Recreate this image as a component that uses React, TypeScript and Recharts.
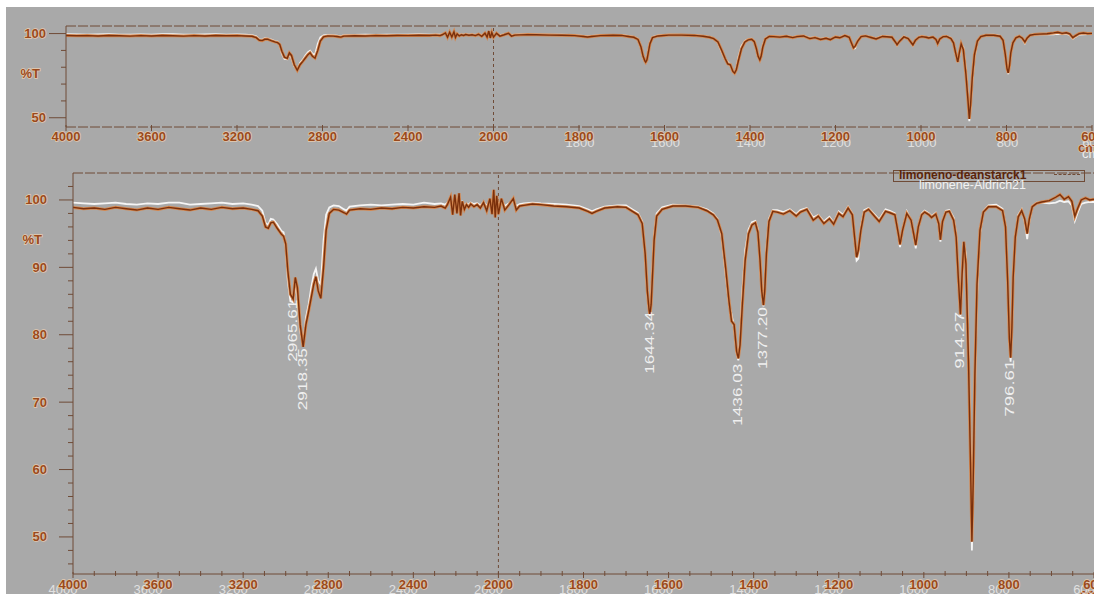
import React from 'react';
import { ComposedChart, Line, XAxis, YAxis, ReferenceLine, ReferenceDot, Legend, Label } from 'recharts';

// IR spectrum, wavenumber in cm-1, transmittance in %T
const wavenumbers = [
  4000, 3950, 3900, 3850, 3800, 3750, 3700, 3650, 3600, 3550,
  3500, 3450, 3400, 3350, 3300, 3250, 3200, 3160, 3130, 3110,
  3095, 3082, 3070, 3058, 3040, 3020, 3010, 3000, 2990, 2978,
  2965, 2955, 2945, 2932, 2918, 2905, 2892, 2880, 2868, 2858,
  2847, 2835, 2822, 2810, 2795, 2775, 2750, 2725, 2714, 2700,
  2650, 2600, 2550, 2500, 2450, 2400, 2350, 2300, 2270, 2250,
  2240, 2225, 2215, 2205, 2195, 2185, 2178, 2170, 2160, 2150,
  2140, 2130, 2115, 2100, 2085, 2070, 2055, 2040, 2030, 2022,
  2015, 2008, 2000, 1993, 1985, 1975, 1965, 1958, 1950, 1940,
  1920, 1900, 1870, 1840, 1810, 1790, 1780, 1770, 1750, 1720,
  1700, 1685, 1672, 1662, 1655, 1650, 1646, 1644, 1641, 1638,
  1634, 1628, 1615, 1590, 1560, 1530, 1510, 1495, 1485, 1475,
  1466, 1458, 1452, 1446, 1440, 1436, 1432, 1427, 1420, 1412,
  1404, 1396, 1390, 1385, 1381, 1377, 1374, 1370, 1364, 1355,
  1345, 1330, 1315, 1300, 1290, 1275, 1260, 1248, 1235, 1222,
  1212, 1200, 1190, 1178, 1168, 1162, 1158, 1154, 1148, 1140,
  1130, 1115, 1105, 1090, 1080, 1068, 1060, 1056, 1050, 1040,
  1030, 1024, 1019, 1013, 1005, 998, 988, 982, 972, 965,
  961, 956, 948, 940, 930, 924, 919, 914, 910, 906,
  901, 895, 890, 887, 884, 880, 875, 868, 860, 848,
  830, 815, 808, 803, 799, 796, 793, 790, 785, 778,
  770, 763, 757, 752, 745, 735, 723, 705, 690, 680,
  670, 660, 652, 645, 638, 630, 620, 610, 600,
];

const deanstarck = [
  98.9, 98.7, 98.8, 98.6, 98.9, 98.7, 98.5, 98.8, 98.6, 98.9,
  98.7, 98.5, 98.8, 98.6, 98.9, 98.7, 98.8, 98.6, 98.4, 97.6,
  96.0, 95.8, 96.6, 96.7, 95.8, 94.9, 94.6, 93.5, 89.5, 86.0,
  85.3, 88.5, 87.0, 81.5, 78.2, 81.5, 83.5, 85.5, 87.5, 88.6,
  86.5, 85.4, 90.0, 95.5, 98.0, 98.6, 98.5, 98.1, 97.9, 98.5,
  98.7, 98.6, 98.8, 98.7, 98.9, 98.8, 99.0, 98.9, 99.1, 98.8,
  99.3, 100.4, 97.8, 100.8, 98.0, 101.0, 97.7, 99.8, 98.6, 99.3,
  98.9, 99.4, 99.0, 99.3, 98.8, 99.6, 98.4, 100.2, 97.9, 101.5,
  97.4, 100.6, 97.9, 100.2, 98.5, 99.3, 100.2, 98.5, 99.1, 99.2,
  99.4, 99.3, 99.1, 99.0, 98.8, 98.3, 98.0, 98.3, 98.8, 99.0,
  98.9, 98.3, 97.8, 96.5, 92.0, 86.5, 83.8, 83.0, 84.5, 88.5,
  94.0, 97.6, 98.6, 99.1, 99.1, 98.9, 98.4, 97.8, 97.0, 95.0,
  90.0, 85.0, 82.0, 81.5, 77.5, 76.5, 78.5, 84.0, 91.0, 95.0,
  96.3, 96.6, 95.2, 91.0, 86.5, 84.4, 86.5, 92.0, 96.8, 98.3,
  98.2, 97.9, 98.4, 97.6, 98.2, 98.6, 97.0, 97.6, 96.5, 97.2,
  96.4, 98.0, 97.5, 98.8, 97.8, 94.0, 91.5, 92.5, 95.5, 98.2,
  98.6, 97.5, 96.8, 98.3, 98.1, 97.8, 95.0, 93.4, 95.5, 98.0,
  97.0, 95.0, 93.3, 96.0, 97.8, 98.2, 97.8, 97.4, 97.9, 96.5,
  94.1, 96.8, 98.2, 98.3, 97.0, 94.5, 88.5, 83.0, 89.0, 93.8,
  90.5, 76.0, 60.0, 49.3, 58.0, 74.0, 87.5, 95.5, 98.2, 99.0,
  99.0, 98.4, 96.0, 88.0, 79.5, 76.6, 81.0, 88.5, 94.5, 97.5,
  98.4, 97.2, 95.0, 97.2, 99.0, 99.5, 99.7, 99.9, 100.4, 100.8,
  100.1, 100.5, 99.8, 97.6, 98.8, 100.0, 100.3, 100.0, 100.1,
];

const aldrich = [
  99.6, 99.5, 99.4, 99.5, 99.6, 99.4, 99.3, 99.5, 99.4, 99.6,
  99.6, 99.3, 99.4, 99.5, 99.6, 99.4, 99.5, 99.3, 99.1, 98.4,
  96.6, 96.3, 97.2, 97.1, 96.4, 95.4, 95.2, 93.0, 88.0, 85.0,
  84.8, 87.5, 85.5, 80.5, 78.5, 82.5, 84.5, 87.0, 89.0, 89.8,
  88.0, 87.5, 94.0, 97.8, 98.9, 99.2, 99.1, 98.6, 98.4, 99.0,
  99.2, 99.3, 99.2, 99.3, 99.4, 99.3, 99.6, 99.4, 99.5, 99.3,
  99.6, 100.0, 98.8, 100.1, 98.9, 100.2, 98.7, 99.7, 99.2, 99.5,
  99.3, 99.6, 99.4, 99.5, 99.2, 99.7, 99.1, 99.9, 98.9, 100.4,
  98.6, 100.0, 98.9, 99.9, 99.1, 99.5, 99.8, 99.1, 99.4, 99.5,
  99.6, 99.5, 99.4, 99.3, 99.1, 98.6, 98.3, 98.6, 99.0, 99.2,
  99.2, 98.6, 98.1, 96.8, 91.5, 86.0, 83.5, 82.8, 85.0, 89.5,
  94.8, 98.0, 98.9, 99.3, 99.2, 99.0, 98.6, 98.0, 97.2, 94.5,
  89.0, 84.5, 83.0, 81.0, 77.2, 76.2, 79.5, 86.0, 92.5, 95.6,
  96.7, 96.9, 95.6, 90.5, 86.0, 84.2, 87.5, 93.0, 97.2, 98.5,
  98.5, 98.2, 98.6, 97.9, 98.5, 98.8, 97.4, 97.8, 96.8, 97.5,
  96.6, 98.3, 97.8, 99.0, 98.0, 93.5, 91.0, 91.3, 96.0, 98.5,
  98.8, 97.8, 97.1, 98.6, 98.4, 98.0, 94.8, 93.0, 95.5, 98.3,
  97.0, 94.8, 92.8, 96.0, 98.0, 98.4, 98.0, 97.6, 98.1, 96.2,
  93.8, 96.8, 98.4, 98.5, 97.4, 95.0, 88.0, 82.8, 87.5, 93.6,
  92.0, 79.0, 62.0, 48.0, 55.5, 71.0, 85.5, 95.0, 98.3, 99.2,
  99.3, 98.7, 96.2, 87.0, 79.0, 76.0, 80.5, 88.0, 94.5, 97.8,
  98.6, 96.8, 94.2, 96.8, 99.1, 99.6, 99.6, 99.5, 99.6, 99.9,
  99.7, 99.8, 99.2, 96.9, 98.2, 99.4, 99.6, 99.7, 99.7,
];

const seriesNames = ['limoneno-deanstarck1', 'limonene-Aldrich21'];
const xTickLabels = [4000, 3600, 3200, 2800, 2400, 2000, 1800, 1600, 1400, 1200, 1000, 800, 600];
const topYLabels = [100, 50];
const topYTicks = [50, 60, 70, 80, 90, 100];
const bottomYLabels = [100, 90, 80, 70, 60, 50];
const peakWavenumbers = [2965.61, 2918.35, 1644.34, 1436.03, 1377.2, 914.27, 796.61];
const peakLabels = ['2965.61', '2918.35', '1644.34', '1436.03', '1377.20', '914.27', '796.61'];
const peakLabelTop = [85.5, 78.3, 83.7, 76.0, 84.4, 83.7, 76.6];

// axis is compressed 2:1 above 2000 cm-1 (scale change of the spectrometer plot)
const toAxis = (w: number) => (w <= 2000 ? w : 2000 + (w - 2000) / 2);
const fromAxis = (t: number) => (t <= 2000 ? t : 2000 + (t - 2000) * 2);

const data = wavenumbers.map((w, i) => ({ t: toAxis(w), dean: deanstarck[i], ald: aldrich[i] }));

const minorX: number[] = [];
for (let w = 3900; w > 2000; w -= 100) if (w % 400 !== 0) minorX.push(w);
for (let w = 1950; w > 600; w -= 50) if (w % 200 !== 0) minorX.push(w);
const xTicksAll = [...xTickLabels, ...minorX].map(toAxis);

const bottomYTicks: number[] = [];
for (let v = 46; v <= 102; v += 2) bottomYTicks.push(v);

const FONT = '"Liberation Sans", Arial, sans-serif';
const BROWN_TEXT = '#9a4a1c';
const HALO = '#e6cbb0';
const AXIS = '#6f4b37';
const BG = '#a9a9a9';

function makeXTick(labelDy: number, ghost: (w: number) => [number, number] | null, showMinor: boolean) {
  return (props: any) => {
    const { x, y, payload } = props;
    const w = Math.round(fromAxis(payload.value));
    const major = xTickLabels.includes(w);
    if (!major) {
      return showMinor ? <line x1={x} x2={x} y1={y - 3} y2={y + 2} stroke={AXIS} strokeWidth={1} /> : <g />;
    }
    const g = ghost(w);
    return (
      <g>
        <line x1={x} x2={x} y1={y - 2} y2={y + 4} stroke={AXIS} strokeWidth={1} />
        {g && (
          <text x={x + g[0]} y={y + labelDy + g[1]} textAnchor="middle" dominantBaseline="central"
            fontFamily={FONT} fontSize={13} fill="#efefef" opacity={0.8}>{w}</text>
        )}
        <text x={x} y={y + labelDy} textAnchor="middle" dominantBaseline="central" fontFamily={FONT}
          fontWeight="bold" fontSize={13} fill={BROWN_TEXT} stroke={HALO} strokeWidth={1.4}
          paintOrder="stroke">{w}</text>
      </g>
    );
  };
}

function makeYTick(labels: number[], labelDx: number, majorLen: number, minorLen: number) {
  return (props: any) => {
    const { x, y, payload } = props;
    const v = payload.value;
    const major = labels.includes(v);
    return (
      <g>
        <line x1={x - (major ? majorLen : minorLen)} x2={x} y1={y} y2={y} stroke={AXIS} strokeWidth={1} />
        {major && (
          <text x={x - labelDx} y={y} textAnchor="end" dominantBaseline="central" fontFamily={FONT}
            fontWeight="bold" fontSize={13} fill={BROWN_TEXT} stroke={HALO} strokeWidth={1.4}
            paintOrder="stroke">{v}</text>
        )}
      </g>
    );
  };
}

function percentLabel(frac: number, dx: number) {
  return (p: any) => {
    const vb = p.viewBox || { x: 0, y: 0, width: 0, height: 0 };
    return (
      <text x={vb.x + vb.width - dx} y={vb.y + vb.height * frac} textAnchor="end" dominantBaseline="central"
        fontFamily={FONT} fontWeight="bold" fontSize={13} fill={BROWN_TEXT} stroke={HALO} strokeWidth={1.4}
        paintOrder="stroke">%T</text>
    );
  };
}

function unitLabel(dy: number, ghostDy: number) {
  return (p: any) => {
    const vb = p.viewBox || { x: 0, y: 0, width: 0, height: 0 };
    const x = vb.x + vb.width - 14;
    return (
      <g>
        <text x={x + 4} y={vb.y + dy + ghostDy} dominantBaseline="central" fontFamily={FONT} fontSize={13}
          fill="#f0f0f0">cm-1</text>
        <text x={x} y={vb.y + dy} dominantBaseline="central" fontFamily={FONT} fontWeight="bold" fontSize={13}
          fill={BROWN_TEXT} stroke={HALO} strokeWidth={1.2} paintOrder="stroke">cm-1</text>
      </g>
    );
  };
}

function seriesLines(prefix: string) {
  return [
    <Line key={prefix + 'w'} dataKey="ald" name={seriesNames[1]} type="linear" stroke="#f5f5f5" strokeWidth={1.8}
      dot={false} activeDot={false} isAnimationActive={false} />,
    <Line key={prefix + 'h'} dataKey="dean" name={seriesNames[0]} type="linear" stroke="#d4874f" strokeWidth={3}
      dot={false} activeDot={false} isAnimationActive={false} />,
    <Line key={prefix + 'c'} dataKey="dean" name={seriesNames[0] + ' '} type="linear" stroke="#7a300c" strokeWidth={1.4}
      dot={false} activeDot={false} isAnimationActive={false} />,
  ];
}

const LegendBox = () => (
  <div style={{ position: 'relative', width: 192, height: 12, border: `1px solid ${AXIS}`, boxSizing: 'border-box', fontFamily: FONT }}>
    <span style={{ position: 'absolute', left: 5, top: -3, fontSize: 12, fontWeight: 'bold', color: '#5a240a', whiteSpace: 'nowrap', lineHeight: '14px' }}>
      {seriesNames[0]}
    </span>
    <span style={{ position: 'absolute', left: 25, top: 7, fontSize: 12.5, color: '#f2f2f2', whiteSpace: 'nowrap', lineHeight: '14px' }}>
      {seriesNames[1]}
    </span>
    <span style={{ position: 'absolute', left: 160, top: 3, width: 26, borderTop: `1px dashed ${AXIS}` }} />
  </div>
);

export default function App() {
  return (
    <div style={{ position: 'fixed', left: 6, top: 7, width: 1088, height: 587, background: BG, overflow: 'hidden', fontFamily: FONT }}>
      <div style={{ position: 'absolute', left: 0, top: 0 }}>
        <ComposedChart width={1120} height={160} data={data} margin={{ top: 19, right: 34, bottom: 0, left: 0 }}>
          <XAxis dataKey="t" type="number" domain={[600, 3000]} reversed allowDataOverflow ticks={xTicksAll} interval={0}
            tick={makeXTick(9, (w) => (w <= 1800 ? [1, 6] : null), false)} tickLine={false} tickSize={0} tickMargin={0}
            height={40} axisLine={{ stroke: AXIS, strokeWidth: 1, strokeDasharray: '10 2' }}>
            <Label content={unitLabel(20, 6)} />
          </XAxis>
          <YAxis type="number" domain={[44.5, 104.5]} allowDataOverflow ticks={topYTicks} interval={0} width={60}
            tick={makeYTick(topYLabels, 20, 17, 5)} tickLine={false} tickSize={0} tickMargin={0}
            axisLine={{ stroke: AXIS, strokeWidth: 1 }}>
            <Label content={percentLabel(0.47, 26)} />
          </YAxis>
          <ReferenceLine y={104.5} stroke={AXIS} strokeWidth={1} strokeDasharray="10 2" />
          <ReferenceLine x={toAxis(2000)} stroke={AXIS} strokeWidth={1} strokeDasharray="3 3" />
          {seriesLines('top')}
        </ComposedChart>
      </div>
      <div style={{ position: 'absolute', left: 0, top: 150 }}>
        <ComposedChart width={1120} height={438} data={data} margin={{ top: 16, right: 32, bottom: 0, left: 0 }}>
          <XAxis dataKey="t" type="number" domain={[600, 3000]} reversed allowDataOverflow ticks={xTicksAll} interval={0}
            tick={makeXTick(10, () => [-10, 5], true)} tickLine={false} tickSize={0} tickMargin={0}
            height={21} axisLine={{ stroke: AXIS, strokeWidth: 1 }}>
            <Label content={unitLabel(19, 6)} />
          </XAxis>
          <YAxis type="number" domain={[44.5, 104]} allowDataOverflow ticks={bottomYTicks} interval={0} width={67}
            tick={makeYTick(bottomYLabels, 26, 14, 5)} tickLine={false} tickSize={0} tickMargin={0}
            axisLine={{ stroke: AXIS, strokeWidth: 1 }}>
            <Label content={percentLabel(0.165, 31)} />
          </YAxis>
          <ReferenceLine y={104} stroke={AXIS} strokeWidth={1} strokeDasharray="10 2" />
          <ReferenceLine x={toAxis(2000)} stroke={AXIS} strokeWidth={1} strokeDasharray="3 3" />
          {seriesLines('bot')}
          {peakWavenumbers.map((w, i) => (
            <ReferenceDot key={'pk' + i} x={toAxis(w)} y={peakLabelTop[i]} r={1} ifOverflow="visible"
              shape={(p: any) => (
                <text x={p.cx} y={p.cy + 2} transform={`rotate(-90 ${p.cx} ${p.cy + 2})`} textAnchor="end"
                  dominantBaseline="central" fontFamily={FONT} fontSize={12.5} fill="#efefef"
                  textLength={peakLabels[i].length > 6 ? 62 : 57} lengthAdjust="spacingAndGlyphs">
                  {peakLabels[i]}
                </text>
              )} />
          ))}
          <Legend verticalAlign="middle" align="center" layout="horizontal" content={() => <LegendBox />}
            wrapperStyle={{ position: 'absolute', left: 887, top: 13, width: 192, height: 12, margin: 0 }} />
        </ComposedChart>
      </div>
    </div>
  );
}
